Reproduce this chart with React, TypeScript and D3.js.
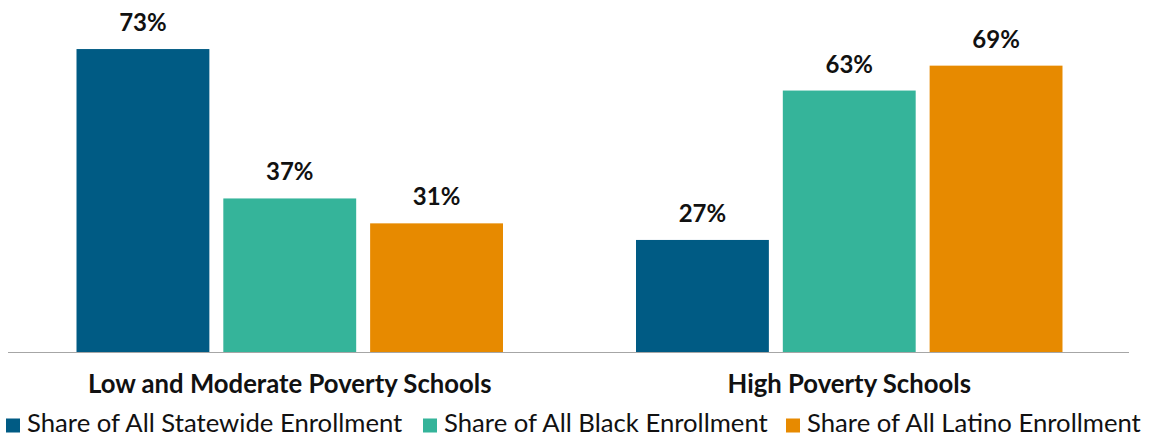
import * as d3 from "d3";
import { useEffect, useRef } from "react";

const categories = ["Low and Moderate Poverty Schools", "High Poverty Schools"];
const seriesNames = [
  "Share of All Statewide Enrollment",
  "Share of All Black Enrollment",
  "Share of All Latino Enrollment",
];
const statewide = [0.73, 0.27];
const black = [0.37, 0.63];
const latino = [0.31, 0.69];
const colors = ["#005b84", "#35b49a", "#e78a00"];

const W = 1151;
const H = 437;

const App = () => {
  const svgRef = useRef<SVGSVGElement | null>(null);

  useEffect(() => {
    const svg = d3.select(svgRef.current);
    svg.selectAll("*").remove();

    const values = [statewide, black, latino];
    const rows = categories.map((c, i) => ({
      cat: c,
      vals: seriesNames.map((s, j) => ({ s, v: values[j][i], j })),
    }));

    const x0 = d3.scaleBand<string>().domain(categories).range([10, 1129]);
    const x1 = d3
      .scaleBand<string>()
      .domain(seriesNames)
      .range([0, x0.bandwidth()])
      .paddingInner(0.095)
      .paddingOuter(0.453);
    const y = d3.scaleLinear().domain([0, 0.8]).range([352, 20]);

    const g = svg.append("g");

    const groups = g
      .selectAll("g.grp")
      .data(rows)
      .enter()
      .append("g")
      .attr("class", "grp")
      .attr("transform", (d) => `translate(${x0(d.cat)},0)`);

    groups
      .selectAll("rect")
      .data((d) => d.vals)
      .enter()
      .append("rect")
      .attr("x", (d) => x1(d.s) as number)
      .attr("width", x1.bandwidth())
      .attr("y", (d) => y(d.v))
      .attr("height", (d) => y(0) - y(d.v))
      .attr("fill", (d) => colors[d.j]);

    groups
      .selectAll("text.val")
      .data((d) => d.vals)
      .enter()
      .append("text")
      .attr("class", "val")
      .attr("x", (d) => (x1(d.s) as number) + x1.bandwidth() / 2)
      .attr("y", (d) => y(d.v) - 18)
      .attr("text-anchor", "middle")
      .attr("font-family", "Lato")
      .attr("font-weight", "bold")
      .attr("font-size", 24)
      .attr("fill", "#111")
      .text((d) => d3.format(".0%")(d.v));

    // baseline
    g.append("line")
      .attr("x1", 8)
      .attr("x2", 1129)
      .attr("y1", y(0) + 0.5)
      .attr("y2", y(0) + 0.5)
      .attr("stroke", "#a6a6a6")
      .attr("stroke-width", 1);

    // category labels
    g.selectAll("text.cat")
      .data(categories)
      .enter()
      .append("text")
      .attr("class", "cat")
      .attr("x", (d) => (x0(d) as number) + x0.bandwidth() / 2)
      .attr("y", 393)
      .attr("text-anchor", "middle")
      .attr("font-family", "Lato")
      .attr("font-weight", "bold")
      .attr("font-size", 25.7)
      .attr("fill", "#111")
      .text((d) => d);

    // legend
    const legendX = [6, 423, 786];
    const leg = g
      .selectAll("g.leg")
      .data(seriesNames)
      .enter()
      .append("g")
      .attr("class", "leg")
      .attr("transform", (_d, i) => `translate(${legendX[i]},0)`);
    leg
      .append("rect")
      .attr("x", 0)
      .attr("y", 418.5)
      .attr("width", 14)
      .attr("height", 14)
      .attr("fill", (_d, i) => colors[i]);
    leg
      .append("text")
      .attr("x", 21)
      .attr("y", 432)
      .attr("font-family", "Lato")
      .attr("font-size", 25.7)
      .attr("fill", "#111")
      .text((d) => d);
  }, []);

  return (
    <svg
      ref={svgRef}
      width={W}
      height={H}
      style={{ position: "absolute", left: 0, top: 0 }}
    ></svg>
  );
};

export default App;
